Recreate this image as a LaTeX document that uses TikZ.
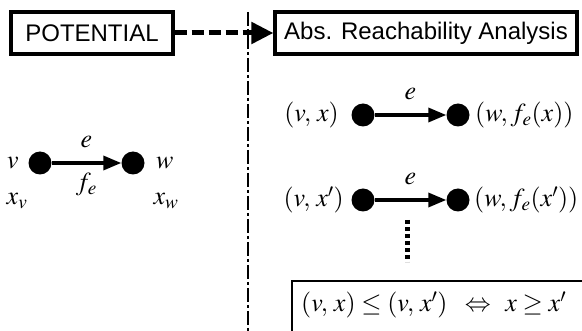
\documentclass[tikz,border=0pt]{standalone}
\usepackage{mathptmx}
\usepackage{fontspec}
\setsansfont{Liberation Sans}
\usetikzlibrary{arrows.meta}
\usetikzlibrary{positioning}

\tikzset{
    graphdot/.style={circle, fill=black, minimum size=23pt, inner sep=0pt},
    graphedge/.style={line width=3.4pt, -{Triangle[length=18pt,width=14pt]}},
    titlebox/.style={draw, line width=3.2pt, font=\sffamily\fontsize{24}{28}\selectfont, minimum height=42pt, inner xsep=8pt},
}

\begin{document}
\begin{tikzpicture}[x=1pt, y=-1pt, font=\fontsize{26}{31}\selectfont]
        \newcommand{\reachrowa}{115}
        \newcommand{\reachrowb}{200}
        \newcommand{\reachdotax}{363}
        \newcommand{\reachdotbx}{458}
        \newcommand{\potrow}{163}
        \useasboundingbox (0,0) rectangle (582,331);
        \clip (0,0) rectangle (582,331);
        \node[titlebox, minimum width=162pt] (potential) at (92,33) {POTENTIAL};
        \node[titlebox, minimum width=302pt] (reach) at (426,33) {Abs. Reachability Analysis};
        \draw[line width=5pt, dash pattern=on 12pt off 5pt, -{Triangle[length=22pt,width=21pt]}] (potential.east) -- (reach.west);
        \coordinate (septop) at (248,12);
        \coordinate (sepbot) at (248,331);
        \draw[line width=1.4pt, dash pattern=on 14pt off 3pt on 3pt off 3pt] (septop) -- (sepbot);
        % potential graph
        \node[graphdot] (v) at (40,\potrow) {};
        \node[graphdot] (w) at (133,\potrow) {};
        \draw[graphedge] (v) -- (w) node[midway, above=10pt] (elabel) {$e$} node[midway, below=5pt] (felabel) {$f_e$};
        \node[left=6pt of v] (vlabel) {$v$};
        \node[right=8pt of w] (wlabel) {$w$};
        \node (xv) at (17,201) {$x_v$};
        \node (xw) at (166,201) {$x_w$};
        % reachability graph
        \node[graphdot] (vx) at (\reachdotax,\reachrowa) {};
        \node[graphdot] (wx) at (\reachdotbx,\reachrowa) {};
        \draw[graphedge] (vx) -- (wx) node[midway, above=10pt] (eonelabel) {$e$};
        \node[left=9pt of vx] (vxlabel) {$(v,\,x)$};
        \node[right=2pt of wx] (wxlabel) {$(w,f_e(x))$};
        \node[graphdot] (vxp) at (\reachdotax,\reachrowb) {};
        \node[graphdot] (wxp) at (\reachdotbx,\reachrowb) {};
        \draw[graphedge] (vxp) -- (wxp) node[midway, above=10pt] (etwolabel) {$e$};
        \node[left=4pt of vxp] (vxplabel) {$(v,\,x')$};
        \node[right=1pt of wxp] (wxplabel) {$(w,f_e(x'))$};
        \coordinate (moretop) at (407,220);
        \coordinate (morebot) at (407,262);
        \draw[line width=5pt, dash pattern=on 4pt off 3pt] (moretop) -- (morebot);
        % order
        \node[anchor=west, inner sep=0pt] (order) at (301,305) {$(v,\,x)\le(v,\,x')\;\;\Leftrightarrow\;\,x\ge x'$};
        \coordinate (ordercorner) at (292,281);
        \draw[line width=1.4pt] (ordercorner |- 0,340) -- (ordercorner) -- (ordercorner -| 600,0);
\end{tikzpicture}
\end{document}
